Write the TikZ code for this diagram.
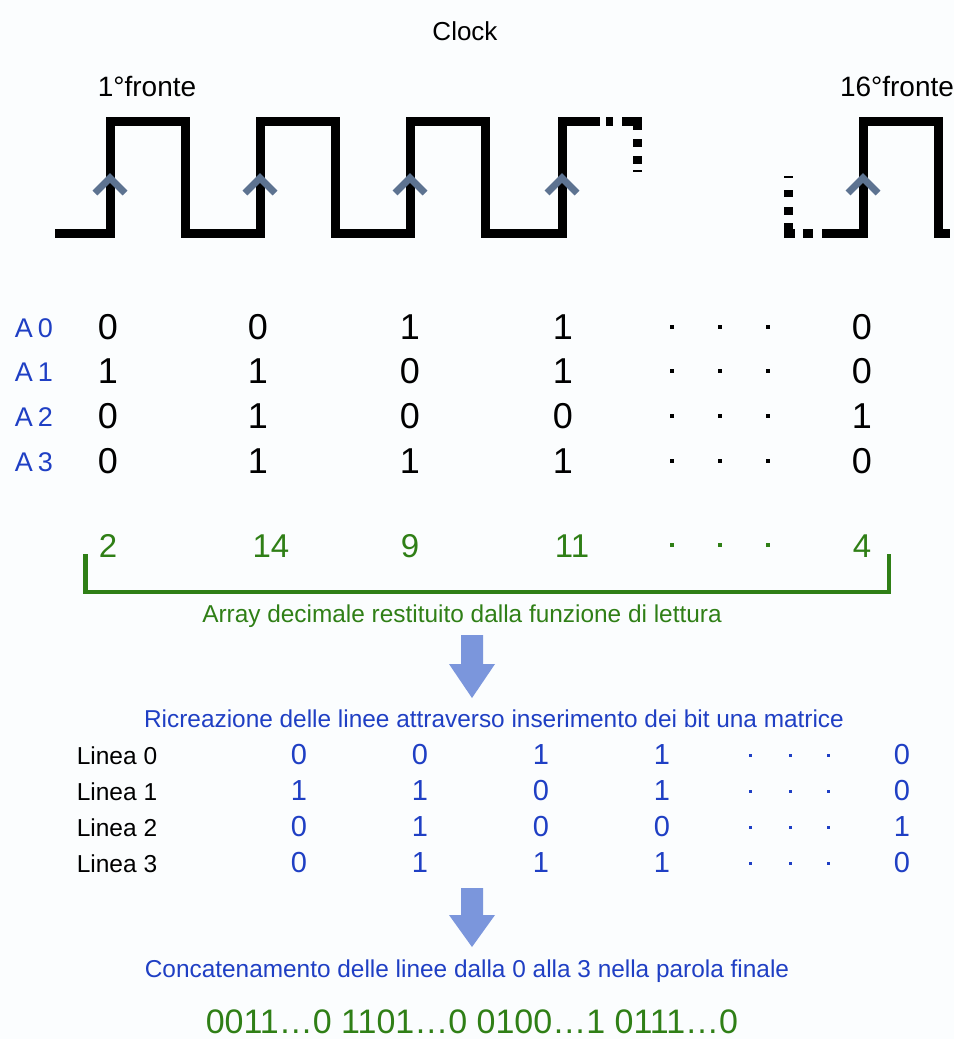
\documentclass[tikz,border=0pt]{standalone}
\usepackage{fontspec}
\setmainfont{Liberation Sans}
\definecolor{myblue}{HTML}{1F3FC4}
\definecolor{mygreen}{HTML}{2F7F16}
\definecolor{chevc}{HTML}{5D7391}
\definecolor{arrc}{HTML}{7B96DC}
\definecolor{bgc}{HTML}{FBFDFE}
\newcommand{\fs}[1]{\fontsize{#1}{#1}\selectfont}
\begin{document}
\begin{tikzpicture}[x=1pt,y=-1pt,
  txt/.style={inner sep=0pt, anchor=base},
  clk/.style={line width=9pt, line join=miter, black},
  chev/.style={line width=7pt, line join=miter, chevc},
  bit/.style={txt, font=\fs{36}},
  abl/.style={txt, font=\fs{27}, text=myblue},
  gnum/.style={txt, font=\fs{33}, text=mygreen},
  lin/.style={txt, font=\fs{24.5}},
  lbit/.style={txt, font=\fs{29}, text=myblue},
  dotc/.style={rectangle, fill=black, inner sep=0pt, minimum size=3.6pt},
  bracket/.style={line width=4.5pt, mygreen},
  blockarrow/.style={fill=arrc, draw=none}]
\fill[bgc] (0,0) rectangle (954,1039);
\useasboundingbox (0,0) rectangle (954,1039);

% titles
\node[txt, font=\fs{26}] (clock) at (465,40) {Clock};
\node[txt, font=\fs{28}] (f1) at (147,96) {1°fronte};
\node[txt, font=\fs{28}] (f16) at (897,96) {16°fronte};

% clock waveform
\draw[clk] (55,233) -- (110,233) -- (110,121) -- (185,121) -- (185,233) -- (260,233) -- (260,121) -- (335,121) -- (335,233) -- (410,233) -- (410,121) -- (485,121) -- (485,233) -- (562,233) -- (562,121) -- (600,121);
\draw[clk, dash pattern=on 7pt off 9pt on 24pt off 9pt on 8pt off 9pt on 8pt off 6pt on 2pt off 200pt] (606,121) -- (637,121) -- (637,180);
\draw[clk, dash pattern=on 2pt off 12pt on 7pt off 10pt on 8pt off 8pt on 17pt off 8pt on 10pt off 300pt] (788,176) -- (788,233) -- (822,233);
\draw[clk] (822,233) -- (863,233) -- (863,121) -- (938,121) -- (938,233) -- (950,233);

% rising edge chevrons
\foreach \x in {110,260,410,562,863}
  \draw[chev] (\x-15,193) -- (\x,178) -- (\x+15,193);

% A rows
\foreach \r/\y/\a/\b/\c/\d/\e in {0/339/0/0/1/1/0, 1/383/1/1/0/1/0, 2/428/0/1/0/0/1, 3/473/0/1/1/1/0} {
  \node[abl] (A\r) at (34,\y-2) {A\hspace{5pt}\r};
  \node[bit] (a\r c1) at (108,\y) {\a};
  \node[bit] (a\r c2) at (258,\y) {\b};
  \node[bit] (a\r c3) at (410,\y) {\c};
  \node[bit] (a\r c4) at (563,\y) {\d};
  \node[dotc] (a\r d1) at (672,\y-12) {};
  \node[dotc] (a\r d2) at (720,\y-12) {};
  \node[dotc] (a\r d3) at (768,\y-12) {};
  \node[bit] (a\r c5) at (862,\y) {\e};
}

% decimal array
\node[gnum] (g1) at (108,557) {2};
\node[gnum] (g2) at (271,557) {14};
\node[gnum] (g3) at (410,557) {9};
\node[gnum] (g4) at (572,557) {11};
\node[dotc, fill=mygreen] (gd1) at (672,545) {};
\node[dotc, fill=mygreen] (gd2) at (720,545) {};
\node[dotc, fill=mygreen] (gd3) at (768,545) {};
\node[gnum] (g5) at (862,557) {4};
\coordinate (bl) at (85.5,554);
\coordinate (br) at (889,554);
\draw[bracket] (bl) -- (85.5,592) -- (889,592) -- (br);
\node[txt, font=\fs{24.4}, text=mygreen] (arr) at (462,622) {Array decimale restituito dalla funzione di lettura};

% arrow 1
\fill[blockarrow] (461,635) -- (483,635) -- (483,664) -- (495,664) -- (472,698) -- (449,664) -- (461,664) -- cycle;

\node[txt, font=\fs{24.4}, text=myblue] (ric) at (494,727) {Ricreazione delle linee attraverso inserimento dei bit una matrice};

% Linea rows
\foreach \r/\y/\a/\b/\c/\d/\e in {0/764/0/0/1/1/0, 1/800/1/1/0/1/0, 2/836/0/1/0/0/1, 3/872/0/1/1/1/0} {
  \node[lin] (L\r) at (117,\y) {Linea \r};
  \node[lbit] (l\r c1) at (299,\y) {\a};
  \node[lbit] (l\r c2) at (420,\y) {\b};
  \node[lbit] (l\r c3) at (541,\y) {\c};
  \node[lbit] (l\r c4) at (662,\y) {\d};
  \node[dotc, fill=myblue, minimum size=3pt] (l\r d1) at (750,\y-9) {};
  \node[dotc, fill=myblue, minimum size=3pt] (l\r d2) at (790,\y-9) {};
  \node[dotc, fill=myblue, minimum size=3pt] (l\r d3) at (828,\y-9) {};
  \node[lbit] (l\r c5) at (902,\y) {\e};
}

% arrow 2
\fill[blockarrow] (461,888) -- (483,888) -- (483,915) -- (495,915) -- (472,947) -- (449,915) -- (461,915) -- cycle;

\node[txt, font=\fs{24.4}, text=myblue] (conc) at (467,977) {Concatenamento delle linee dalla 0 alla 3 nella parola finale};

\node[txt, font=\fs{34}, text=mygreen] (word) at (472,1033) {0011…0 1101…0 0100…1 0111…0};
\end{tikzpicture}
\end{document}
